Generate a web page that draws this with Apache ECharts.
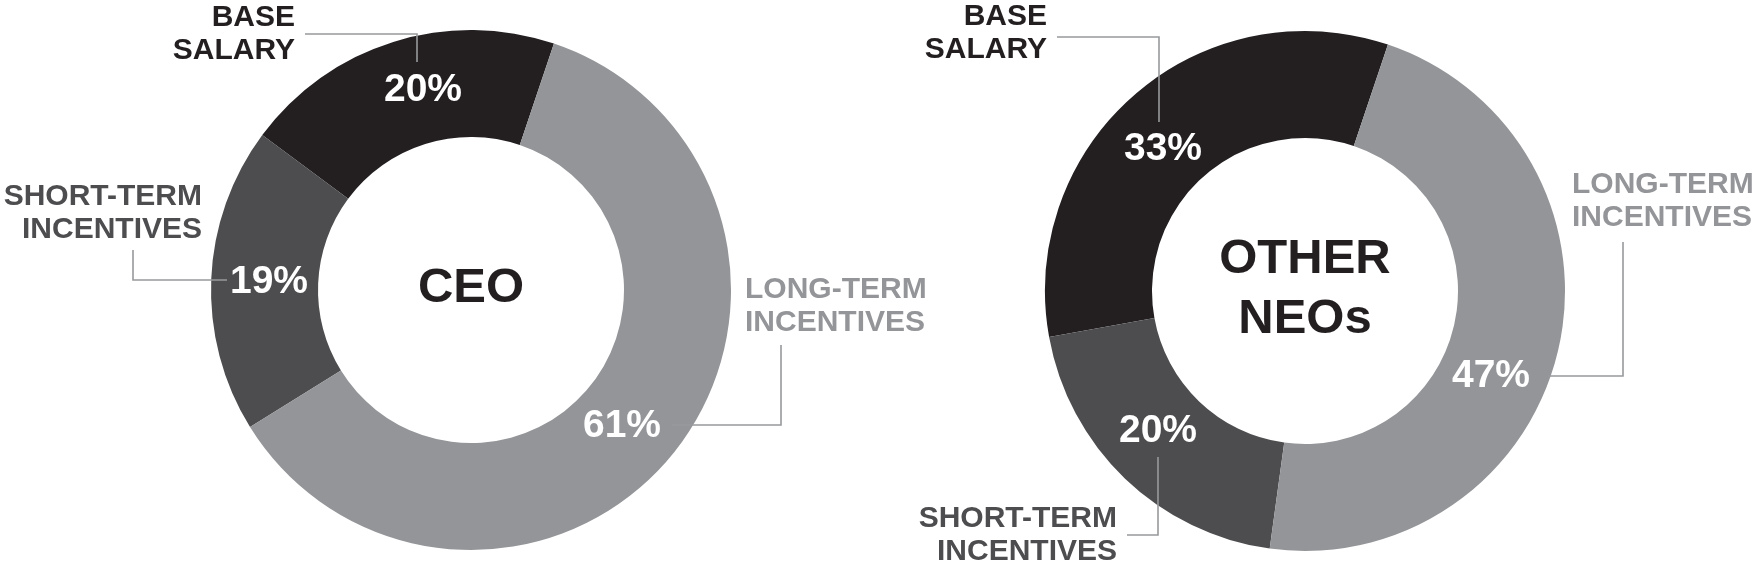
<!DOCTYPE html>
<html><head><meta charset="utf-8">
<script src="https://cdn.jsdelivr.net/npm/echarts@6/dist/echarts.min.js"></script>
<style>html,body{margin:0;padding:0;background:#fff}#c{width:1757px;height:578px}</style>
</head><body><div id="c"></div>
<script>
// ---- data ----
const categories = ['BASE\nSALARY', 'SHORT-TERM\nINCENTIVES', 'LONG-TERM\nINCENTIVES'];
const ceoValues = [20, 19, 61];
const neoValues = [33, 20, 47];
const groupTitles = ['CEO', 'OTHER\nNEOs'];

// ---- style ----
const colors = ['#231f20', '#4d4d4f', '#939598'];
const FONT = '"Liberation Sans", Arial, Helvetica, sans-serif';
const lineColor = '#98999c';

// label placement (pixels) for each donut
const layouts = [
  {
    center: [471, 290],
    pct: [[423, 90], [269, 282], [622, 426]],
    cat: [{x: 295, y: 34, align: 'right'}, {x: 202, y: 213, align: 'right'}, {x: 745, y: 306, align: 'left'}],
    lines: [[[417, 62], [417, 34], [305, 34]], [[227, 280], [133, 280], [133, 250]], [[672, 425], [781, 425], [781, 345]]]
  },
  {
    center: [1305, 291],
    pct: [[1163, 149], [1158, 431], [1491, 376]],
    cat: [{x: 1047, y: 33, align: 'right'}, {x: 1117, y: 535, align: 'right'}, {x: 1572, y: 201, align: 'left'}],
    lines: [[[1159, 122], [1159, 37], [1057, 37]], [[1158, 457], [1158, 535], [1127, 535]], [[1548, 376], [1623, 376], [1623, 242]]]
  }
];

const allValues = [ceoValues, neoValues];
const series = [];
const graphics = [];

allValues.forEach(function (vals, g) {
  const L = layouts[g];
  const data = vals.map(function (v, i) {
    return { name: categories[i], value: v, itemStyle: { color: colors[i] } };
  });
  // ring with percentage labels
  series.push({
    type: 'pie',
    center: L.center,
    radius: [153, 260],
    startAngle: 71.4,
    clockwise: false,
    silent: true,
    avoidLabelOverlap: false,
    emphasis: { disabled: true },
    itemStyle: { borderWidth: 0 },
    label: {
      show: true,
      position: 'inside',
      formatter: function (p) { return p.value + '%'; },
      color: '#ffffff',
      fontFamily: FONT,
      fontWeight: 'bold',
      fontSize: 39
    },
    labelLine: { show: false },
    labelLayout: function (p) {
      const pt = L.pct[p.dataIndex];
      return { x: pt[0], y: pt[1], align: 'center', verticalAlign: 'middle' };
    },
    data: data
  });
  // transparent overlay carrying category labels + leader lines
  series.push({
    type: 'pie',
    center: L.center,
    radius: [153, 260],
    startAngle: 71.4,
    clockwise: false,
    silent: true,
    avoidLabelOverlap: false,
    emphasis: { disabled: true },
    z: 3,
    itemStyle: { color: 'rgba(0,0,0,0)', borderWidth: 0 },
    label: {
      show: true,
      position: 'outside',
      formatter: function (p) { return p.name; },
      fontFamily: FONT,
      fontWeight: 'bold',
      fontSize: 30,
      lineHeight: 33
    },
    labelLine: { show: true, smooth: false, lineStyle: { color: lineColor, width: 1.6 } },
    labelLayout: function (p) {
      const c = L.cat[p.dataIndex];
      return {
        x: c.x, y: c.y, align: c.align, verticalAlign: 'middle',
        labelLinePoints: L.lines[p.dataIndex]
      };
    },
    data: vals.map(function (v, i) {
      return { name: categories[i], value: v, label: { color: colors[i] } };
    })
  });
  graphics.push({
    type: 'text',
    x: L.center[0],
    y: L.center[1] - 2,
    z: 10,
    style: {
      text: groupTitles[g],
      fill: '#231f20',
      font: 'bold 49px ' + FONT,
      lineHeight: 60,
      textAlign: 'center',
      textVerticalAlign: 'middle'
    }
  });
});

const chart = echarts.init(document.getElementById('c'), null, { renderer: 'canvas' });
chart.setOption({
  backgroundColor: '#ffffff',
  animation: false,
  series: series,
  graphic: graphics
});
</script>
</body></html>
